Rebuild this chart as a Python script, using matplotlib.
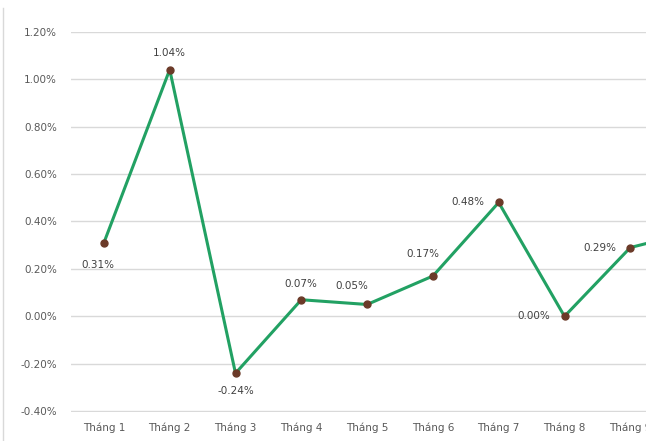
import matplotlib.pyplot as plt
from matplotlib.lines import Line2D

# monthly values (%), the 10th month is cut off by the right edge of the picture
months = ["Tháng 1", "Tháng 2", "Tháng 3", "Tháng 4", "Tháng 5",
          "Tháng 6", "Tháng 7", "Tháng 8", "Tháng 9", "Tháng 10"]
values = [0.31, 1.04, -0.24, 0.07, 0.05, 0.17, 0.48, 0.00, 0.29, 0.36]
yticks = [-0.40, -0.20, 0.00, 0.20, 0.40, 0.60, 0.80, 1.00, 1.20]

# label offsets in points (dx, dy) and alignment; the 10th label lies outside the picture
label_pos = [(-4, -16, "center"), (0, 12, "center"), (0, -13, "center"),
             (0, 11, "center"), (-11, 13, "center"), (-7, 16, "center"),
             (-10, 0, "right"), (-10, 0, "right"), (-10, 0, "right")]

W, H = 646, 441
fig = plt.figure(figsize=(W / 100, H / 100), dpi=100)
# axes wider than the figure so the last category is cut off like in the reference
ax = fig.add_axes([71 / W, (H - 411.7) / H, 658 / W, 380 / H])

x = list(range(len(months)))
ax.plot(x, values, color="#22a163", lw=2.2, zorder=3,
        marker="o", ms=5, mfc="#6b3a28", mec="#6b3a28")

for i, (dx, dy, ha) in enumerate(label_pos):
    v = values[i]
    ax.annotate(f"{v:.2f}%", (i, v), xytext=(dx, dy), textcoords="offset points",
                ha=ha, va="center", fontsize=7.5, color="#404040")

ax.set_xlim(-0.5, len(months) - 0.5)
ax.set_ylim(-0.402, 1.20)
ax.set_yticks(yticks)
ax.set_yticklabels([f"{t:.2f}%" for t in yticks])
ax.set_xticks(x)
ax.set_xticklabels(months)
ax.grid(axis="y", color="#d9d9d9", lw=1)
ax.set_axisbelow(True)
for s in ax.spines.values():
    s.set_visible(False)
ax.tick_params(axis="both", length=0, labelsize=7.5, colors="#595959")
ax.tick_params(axis="y", pad=10)
ax.tick_params(axis="x", pad=8)

# faint chart border on the left
fig.add_artist(Line2D([3 / W, 3 / W], [0, (H - 8) / H], color="#d9d9d9", lw=1))

fig.savefig("out.png", dpi=100)
